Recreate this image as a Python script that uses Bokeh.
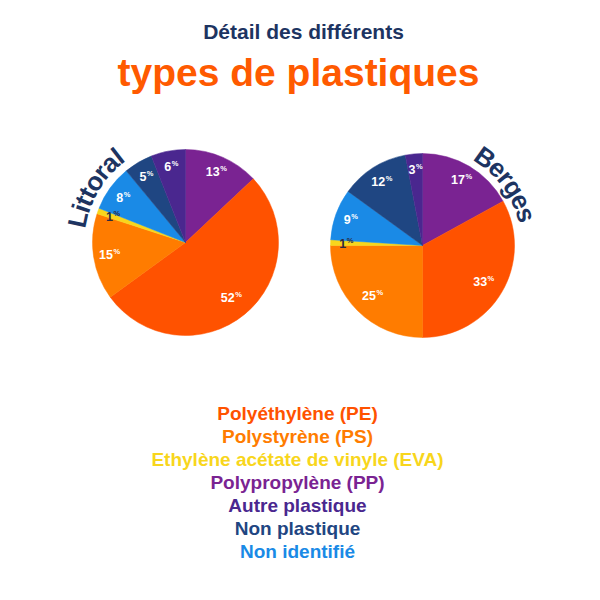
import math
from bokeh.plotting import figure
from bokeh.models import Range1d, ColumnDataSource
from bokeh.core.properties import value
from bokeh.embed import file_html
from bokeh.resources import INLINE

# ---------------- data ----------------
title_top = "Détail des différents"
title_main = "types de plastiques"

categories = ["Polyéthylène (PE)", "Polystyrène (PS)", "Ethylène acétate de vinyle (EVA)",
              "Polypropylène (PP)", "Autre plastique", "Non plastique", "Non identifié"]
colors = ["#ff5200", "#ff7c00", "#f8d61c", "#7a2392", "#4a278f", "#1f4682", "#1a8ae6"]
label_colors = ["#ffffff", "#ffffff", "#2a2a40", "#ffffff", "#ffffff", "#ffffff", "#ffffff"]

# clockwise order of slices from 12 o'clock
pie_order = ["Polypropylène (PP)", "Polyéthylène (PE)", "Polystyrène (PS)",
             "Ethylène acétate de vinyle (EVA)", "Non identifié", "Non plastique", "Autre plastique"]

pie_names = ["Littoral", "Berges"]
littoral = [52, 15, 1, 13, 6, 5, 8]   # in categories order
berges = [33, 25, 1, 17, 3, 12, 9]

# ---------------- layout ----------------
FONT = "Liberation Sans"
NAVY = "#1d3461"
W = H = 584
p = figure(width=W, height=H, output_backend="svg", toolbar_location=None,
           x_range=Range1d(0, 584), y_range=Range1d(16, 600),
           x_axis_location=None, y_axis_location=None, min_border=0)
p.outline_line_color = None
p.grid.visible = False
p.background_fill_color = "white"
p.border_fill_color = "white"

def Y(img_y):
    return 600 - img_y

# titles (middle baseline: y = alphabetic baseline - 0.35 em)
p.text(x=[303], y=[Y(38 - 0.35 * 21)], text=[title_top], text_font=value(FONT), text_font_style="bold",
       text_font_size="21px", text_color=NAVY, text_align="center", text_baseline="middle")
p.text(x=[298], y=[Y(86 - 0.35 * 39)], text=[title_main], text_font=value(FONT), text_font_style="bold",
       text_font_size="39px", text_color="#ff5a00", text_align="center", text_baseline="middle")

# Arial-bold-like advance widths for curved titles
adv = {"L": .611, "i": .278, "t": .333, "o": .611, "r": .389, "a": .556, "l": .278,
       "B": .722, "e": .556, "g": .611, "s": .556}

pies = [
    dict(name=pie_names[0], vals=littoral, cx=185, cy=Y(242), r=93, start=172.0, rt=110),
    dict(name=pie_names[1], vals=berges, cx=422, cy=Y(245), r=92, start=59.5, rt=108),
]

for pie in pies:
    vals = dict(zip(categories, pie["vals"]))
    cols = dict(zip(categories, colors))
    lcols = dict(zip(categories, label_colors))
    total = sum(vals.values())
    cum = 0.0
    starts, ends, fill, lx, ly, lt, lc = [], [], [], [], [], [], []
    for cat in pie_order:
        v = vals[cat]
        a0 = 90 - cum / total * 360
        a1 = 90 - (cum + v) / total * 360
        starts.append(math.radians(a0))
        ends.append(math.radians(a1))
        fill.append(cols[cat])
        mid = math.radians((a0 + a1) / 2)
        rr = pie["r"] * (0.77 if v > 20 else 0.83)
        lx.append(pie["cx"] + rr * math.cos(mid))
        ly.append(pie["cy"] + rr * math.sin(mid))
        lt.append(str(v))
        lc.append(lcols[cat])
        cum += v
    src = ColumnDataSource(dict(x=[pie["cx"]] * len(starts), y=[pie["cy"]] * len(starts),
                                s=starts, e=ends, c=fill))
    p.wedge(x="x", y="y", radius=pie["r"], start_angle="s", end_angle="e", direction="clock",
            fill_color="c", line_color="c", line_width=0.5, source=src)
    # labels: number + small superscript %
    nfs, pfs = 12.5, 7.5
    for x, y, t, c in zip(lx, ly, lt, lc):
        wn = len(t) * 0.556 * nfs
        wp = 0.889 * pfs
        shift = (wn - wp) / 2
        p.text(x=[x + shift], y=[y], text=[t], text_font=value(FONT), text_font_style="bold",
               text_font_size=f"{nfs}px", text_color=c, text_align="right", text_baseline="middle")
        p.text(x=[x + shift + 0.5], y=[y + 3], text=["%"], text_font=value(FONT), text_font_style="bold",
               text_font_size=f"{pfs}px", text_color=c, text_align="left", text_baseline="middle")
    # curved name along the arc
    fs = 26
    rb = pie["rt"]
    s = 0.0
    xs, ys, ts, angs = [], [], [], []
    for ch in pie["name"]:
        w = adv.get(ch, 0.556) * fs
        th = math.radians(pie["start"]) - (s + w / 2) / rb
        xs.append(pie["cx"] + rb * math.cos(th))
        ys.append(pie["cy"] + rb * math.sin(th))
        ts.append(ch)
        angs.append(th - math.pi / 2)
        s += w
    p.text(x=xs, y=ys, text=ts, angle=angs, text_font=value(FONT), text_font_style="bold",
           text_font_size=f"{fs}px", text_color=NAVY, text_align="center", text_baseline="middle")

# legend lines
leg_y = [Y(420 + 23.0 * i - 0.35 * 19) for i in range(len(categories))]
p.text(x=[297] * len(categories), y=leg_y, text=categories, text_color=colors,
       text_font=value(FONT), text_font_style="bold", text_font_size="19px",
       text_align="center", text_baseline="middle")

open("out.html", "w").write(file_html(p, INLINE))
